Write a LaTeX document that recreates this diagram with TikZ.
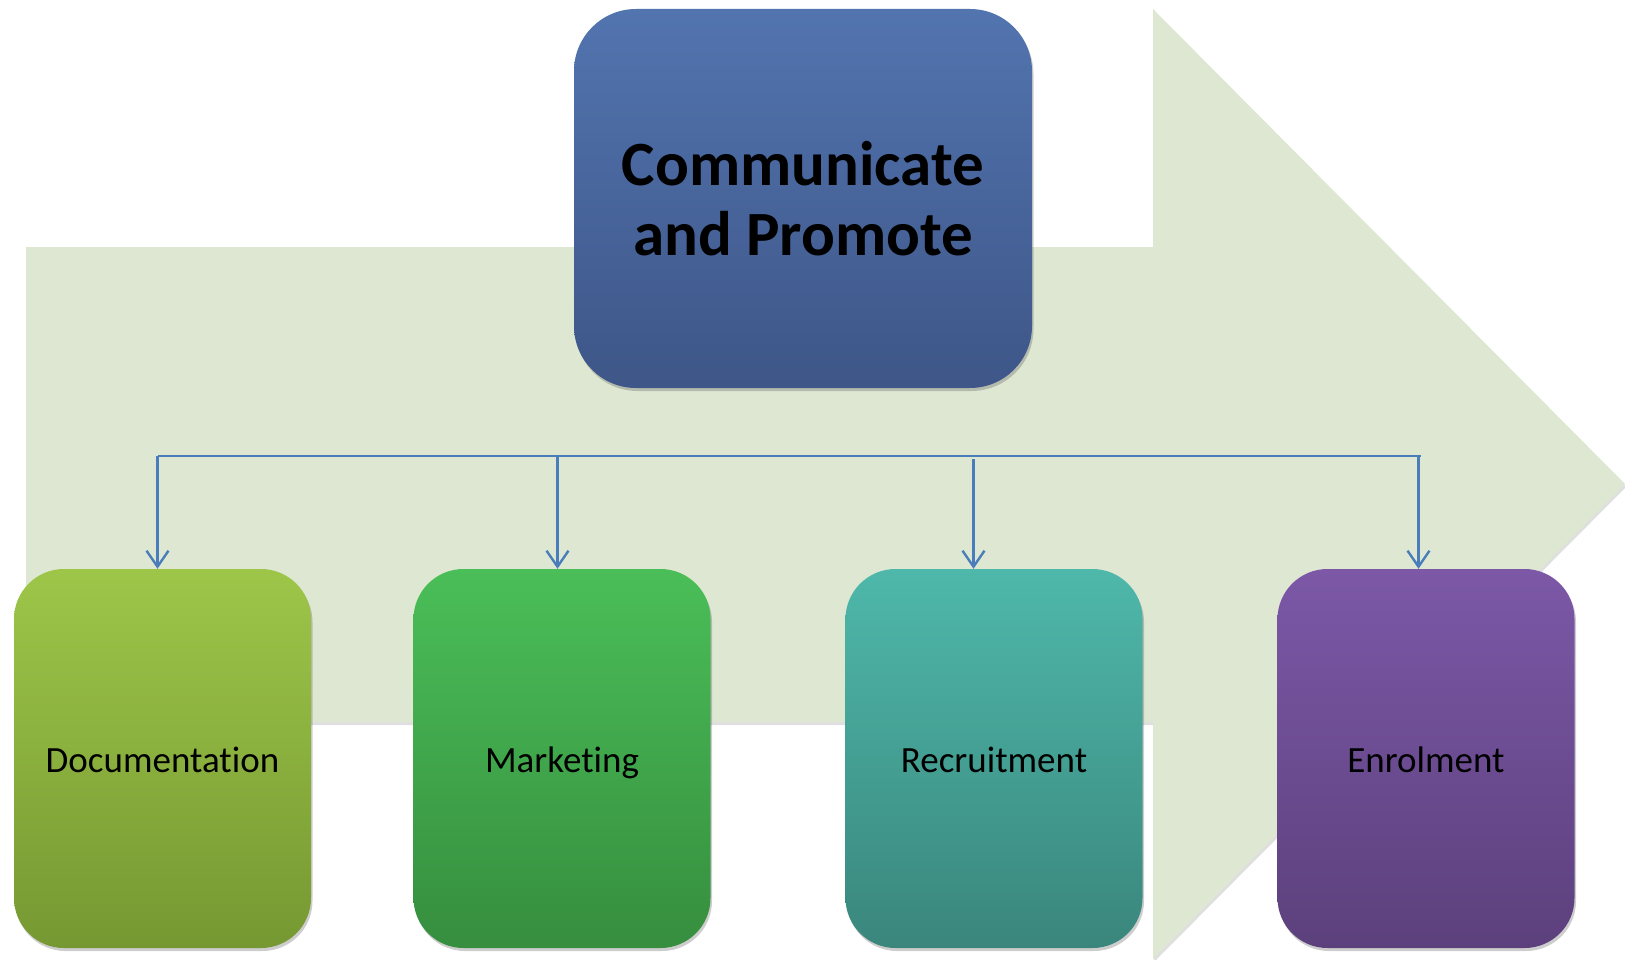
\documentclass[tikz,border=0pt]{standalone}
\usepackage{fontspec}
\setmainfont{Carlito}[Ligatures={NoCommon}]
\usetikzlibrary{arrows.meta,shadows}
\definecolor{arrowfill}{RGB}{222,231,210}
\definecolor{conn}{RGB}{74,126,187}
\definecolor{topA}{RGB}{82,116,175}
\definecolor{topB}{RGB}{62,86,136}
\definecolor{docA}{RGB}{157,198,73}
\definecolor{docB}{RGB}{118,152,50}
\definecolor{mktA}{RGB}{74,190,88}
\definecolor{mktB}{RGB}{54,142,62}
\definecolor{recA}{RGB}{78,184,170}
\definecolor{recB}{RGB}{58,134,124}
\definecolor{enrA}{RGB}{124,88,167}
\definecolor{enrB}{RGB}{92,64,124}
\tikzset{
  softshadow/.style={drop shadow={shadow xshift=1.5pt, shadow yshift=-3pt, opacity=0.28, fill=black!70}},
  bigbox/.style={rectangle, rounded corners=62pt, minimum width=458pt, minimum height=379pt,
    inner sep=0pt, align=center, font=\fontsize{63}{70}\selectfont\bfseries, softshadow},
  subbox/.style={rectangle, rounded corners=50pt, minimum width=297pt, minimum height=379pt,
    inner sep=0pt, align=center, text height=28pt, text depth=1pt,
    font=\fontsize{37}{44}\selectfont, softshadow},
  busline/.style={conn, line width=2.2pt},
  connarrow/.style={conn, line width=2.2pt, -{Straight Barb[length=16pt,width=22pt,line width=2.4pt]}}
}
\begin{document}
\begin{tikzpicture}[x=1pt,y=-1pt]
\useasboundingbox (0,0) rectangle (1625,960);
% background arrow
\fill[arrowfill, drop shadow={shadow xshift=1pt, shadow yshift=-3pt, opacity=0.25}]
  (26,247) -- (1153,247) -- (1153,9) -- (1625,484) -- (1153,959) -- (1153,722) -- (26,722) -- cycle;
% top box
\node[bigbox, top color=topA, bottom color=topB] (top) at (803,198.5) {Communicate\\and Promote};
% bottom boxes
\node[subbox, top color=docA, bottom color=docB] (doc) at (162.5,758.5) {Documentation};
\node[subbox, top color=mktA, bottom color=mktB] (mkt) at (562,758.5) {Marketing};
\node[subbox, top color=recA, bottom color=recB] (rec) at (994,758.5) {Recruitment};
\node[subbox, top color=enrA, bottom color=enrB] (enr) at (1426,758.5) {Enrolment};
% bus
\coordinate (busL) at (157.5,456);
\coordinate (busR) at (1421,456);
\coordinate (aDoc) at (157.5,456);
\coordinate (aMkt) at (557.5,456);
\coordinate (aRec) at (973.5,459);
\coordinate (aEnr) at (1418.5,456);
\draw[busline] (busL) -- (busR);
\draw[connarrow] (aDoc) -- (aDoc |- doc.north);
\draw[connarrow] (aMkt) -- (aMkt |- mkt.north);
\draw[connarrow] (aRec) -- (aRec |- rec.north);
\draw[connarrow] (aEnr) -- (aEnr |- enr.north);
\end{tikzpicture}
\end{document}
